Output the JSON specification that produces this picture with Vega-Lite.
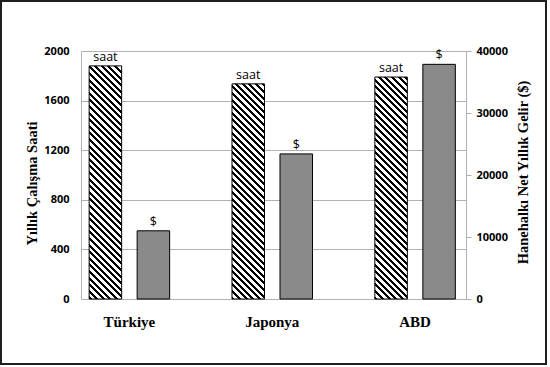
{
  "$schema": "https://vega.github.io/schema/vega-lite/v6.json",
  "width": 545,
  "height": 363,
  "autosize": "none",
  "padding": {"left": 1, "top": 1, "right": 4, "bottom": 3},
  "background": "white",
  "config": {"view": {"stroke": "#1e1e1e", "strokeWidth": 2}},
  "params": [
    {"name": "stp", "expr": "[{offset:0,color:'#000'},{offset:0.01,color:'#000'},{offset:0.01,color:'#fff'},{offset:0.022,color:'#fff'},{offset:0.022,color:'#000'},{offset:0.032,color:'#000'},{offset:0.032,color:'#fff'},{offset:0.044,color:'#fff'},{offset:0.044,color:'#000'},{offset:0.054,color:'#000'},{offset:0.054,color:'#fff'},{offset:0.066,color:'#fff'},{offset:0.066,color:'#000'},{offset:0.076,color:'#000'},{offset:0.076,color:'#fff'},{offset:0.088,color:'#fff'},{offset:0.088,color:'#000'},{offset:0.098,color:'#000'},{offset:0.098,color:'#fff'},{offset:0.11,color:'#fff'},{offset:0.11,color:'#000'},{offset:0.12,color:'#000'},{offset:0.12,color:'#fff'},{offset:0.132,color:'#fff'},{offset:0.132,color:'#000'},{offset:0.142,color:'#000'},{offset:0.142,color:'#fff'},{offset:0.154,color:'#fff'},{offset:0.154,color:'#000'},{offset:0.164,color:'#000'},{offset:0.164,color:'#fff'},{offset:0.176,color:'#fff'},{offset:0.176,color:'#000'},{offset:0.186,color:'#000'},{offset:0.186,color:'#fff'},{offset:0.198,color:'#fff'},{offset:0.198,color:'#000'},{offset:0.208,color:'#000'},{offset:0.208,color:'#fff'},{offset:0.22,color:'#fff'},{offset:0.22,color:'#000'},{offset:0.23,color:'#000'},{offset:0.23,color:'#fff'},{offset:0.242,color:'#fff'},{offset:0.242,color:'#000'},{offset:0.252,color:'#000'},{offset:0.252,color:'#fff'},{offset:0.264,color:'#fff'},{offset:0.264,color:'#000'},{offset:0.274,color:'#000'},{offset:0.274,color:'#fff'},{offset:0.286,color:'#fff'},{offset:0.286,color:'#000'},{offset:0.296,color:'#000'},{offset:0.296,color:'#fff'},{offset:0.308,color:'#fff'},{offset:0.308,color:'#000'},{offset:0.318,color:'#000'},{offset:0.318,color:'#fff'},{offset:0.33,color:'#fff'},{offset:0.33,color:'#000'},{offset:0.34,color:'#000'},{offset:0.34,color:'#fff'},{offset:0.352,color:'#fff'},{offset:0.352,color:'#000'},{offset:0.362,color:'#000'},{offset:0.362,color:'#fff'},{offset:0.374,color:'#fff'},{offset:0.374,color:'#000'},{offset:0.384,color:'#000'},{offset:0.384,color:'#fff'},{offset:0.396,color:'#fff'},{offset:0.396,color:'#000'},{offset:0.406,color:'#000'},{offset:0.406,color:'#fff'},{offset:0.418,color:'#fff'},{offset:0.418,color:'#000'},{offset:0.428,color:'#000'},{offset:0.428,color:'#fff'},{offset:0.44,color:'#fff'},{offset:0.44,color:'#000'},{offset:0.45,color:'#000'},{offset:0.45,color:'#fff'},{offset:0.462,color:'#fff'},{offset:0.462,color:'#000'},{offset:0.472,color:'#000'},{offset:0.472,color:'#fff'},{offset:0.484,color:'#fff'},{offset:0.484,color:'#000'},{offset:0.494,color:'#000'},{offset:0.494,color:'#fff'},{offset:0.506,color:'#fff'},{offset:0.506,color:'#000'},{offset:0.516,color:'#000'},{offset:0.516,color:'#fff'},{offset:0.528,color:'#fff'},{offset:0.528,color:'#000'},{offset:0.538,color:'#000'},{offset:0.538,color:'#fff'},{offset:0.55,color:'#fff'},{offset:0.55,color:'#000'},{offset:0.56,color:'#000'},{offset:0.56,color:'#fff'},{offset:0.572,color:'#fff'},{offset:0.572,color:'#000'},{offset:0.582,color:'#000'},{offset:0.582,color:'#fff'},{offset:0.594,color:'#fff'},{offset:0.594,color:'#000'},{offset:0.604,color:'#000'},{offset:0.604,color:'#fff'},{offset:0.616,color:'#fff'},{offset:0.616,color:'#000'},{offset:0.626,color:'#000'},{offset:0.626,color:'#fff'},{offset:0.638,color:'#fff'},{offset:0.638,color:'#000'},{offset:0.648,color:'#000'},{offset:0.648,color:'#fff'},{offset:0.66,color:'#fff'},{offset:0.66,color:'#000'},{offset:0.67,color:'#000'},{offset:0.67,color:'#fff'},{offset:0.682,color:'#fff'},{offset:0.682,color:'#000'},{offset:0.692,color:'#000'},{offset:0.692,color:'#fff'},{offset:0.704,color:'#fff'},{offset:0.704,color:'#000'},{offset:0.714,color:'#000'},{offset:0.714,color:'#fff'},{offset:0.726,color:'#fff'},{offset:0.726,color:'#000'},{offset:0.736,color:'#000'},{offset:0.736,color:'#fff'},{offset:0.748,color:'#fff'},{offset:0.748,color:'#000'},{offset:0.758,color:'#000'},{offset:0.758,color:'#fff'},{offset:0.77,color:'#fff'},{offset:0.77,color:'#000'},{offset:0.78,color:'#000'},{offset:0.78,color:'#fff'},{offset:0.792,color:'#fff'},{offset:0.792,color:'#000'},{offset:0.802,color:'#000'},{offset:0.802,color:'#fff'},{offset:0.814,color:'#fff'},{offset:0.814,color:'#000'},{offset:0.824,color:'#000'},{offset:0.824,color:'#fff'},{offset:0.836,color:'#fff'},{offset:0.836,color:'#000'},{offset:0.846,color:'#000'},{offset:0.846,color:'#fff'},{offset:0.858,color:'#fff'},{offset:0.858,color:'#000'},{offset:0.868,color:'#000'},{offset:0.868,color:'#fff'},{offset:0.88,color:'#fff'},{offset:0.88,color:'#000'},{offset:0.89,color:'#000'},{offset:0.89,color:'#fff'},{offset:0.902,color:'#fff'}]"}
  ],
  "data": {
    "values": [
      {"ulke": "Türkiye", "tur": "saat", "deger": 1880},
      {"ulke": "Türkiye", "tur": "$", "deger": 11000},
      {"ulke": "Japonya", "tur": "saat", "deger": 1735},
      {"ulke": "Japonya", "tur": "$", "deger": 23400},
      {"ulke": "ABD", "tur": "saat", "deger": 1790},
      {"ulke": "ABD", "tur": "$", "deger": 37850}
    ]
  },
  "encoding": {
    "x": {
      "field": "ulke",
      "type": "nominal",
      "sort": ["Türkiye", "Japonya", "ABD"],
      "scale": {"domain": ["Türkiye", "Japonya", "ABD"], "range": [56.97, 485.52], "paddingInner": 0, "paddingOuter": 0},
      "axis": {
        "title": null,
        "orient": "bottom",
        "offset": -65,
        "domain": false,
        "ticks": false,
        "grid": false,
        "labelAngle": 0,
        "labelFont": "Liberation Serif",
        "labelFontWeight": "bold",
        "labelFontSize": 15,
        "labelColor": "#000",
        "labelPadding": 15
      }
    },
    "xOffset": {
      "field": "tur",
      "type": "nominal",
      "scale": {"domain": ["saat", "$"], "paddingInner": 0.323, "paddingOuter": 0.6495}
    }
  },
  "layer": [
    {
      "transform": [{"filter": "datum.tur === 'saat'"}],
      "encoding": {
        "y": {
          "field": "deger",
          "type": "quantitative",
          "scale": {"domain": [0, 2000], "range": [298, 50], "nice": false, "zero": true},
          "axis": {
            "orient": "left",
            "offset": -80,
            "values": [0, 400, 800, 1200, 1600, 2000],
            "format": "d",
            "grid": false,
            "domain": true,
            "domainColor": "#b0b0b0",
            "ticks": true,
            "tickSize": -385,
            "tickColor": "#b0b0b0",
            "labelPadding": 397,
            "labelFont": "Open Sans",
            "labelFontWeight": "bold",
            "labelFontSize": 11,
            "labelColor": "#000",
            "title": "Yıllık Çalışma Saati",
            "titleFont": "Liberation Serif",
            "titleFontSize": 14.5,
            "titleFontWeight": "bold",
            "titleColor": "#000",
            "titlePadding": 4,
            "titleY": 182
          }
        }
      },
      "layer": [
        {
          "mark": {
            "type": "bar",
            "stroke": "#000",
            "strokeWidth": 1,
            "fill": {"expr": "{gradient:'linear',x1:0,y1:1,x2:9750/(1056.25+pow(datum.deger*0.124,2)),y2:1-37.2*datum.deger/(1056.25+pow(datum.deger*0.124,2)),stops:stp}"}
          }
        },
        {
          "mark": {"type": "text", "baseline": "alphabetic", "align": "center", "dy": -5, "font": "Open Sans", "fontSize": 12.5, "color": "#000"},
          "encoding": {"text": {"field": "tur", "type": "nominal"}}
        }
      ]
    },
    {
      "transform": [{"filter": "datum.tur === '$'"}],
      "encoding": {
        "y": {
          "field": "deger",
          "type": "quantitative",
          "scale": {"domain": [0, 40000], "range": [298, 50], "nice": false, "zero": true},
          "axis": {
            "orient": "right",
            "offset": -80,
            "values": [0, 10000, 20000, 30000, 40000],
            "format": "d",
            "grid": false,
            "domain": true,
            "domainColor": "#b0b0b0",
            "ticks": true,
            "tickSize": 5,
            "tickColor": "#b0b0b0",
            "labelPadding": 5,
            "labelFont": "Open Sans",
            "labelFontWeight": "bold",
            "labelFontSize": 11,
            "labelColor": "#000",
            "title": "Hanehalkı Net Yıllık Gelir ($)",
            "titleFont": "Liberation Serif",
            "titleFontSize": 14.5,
            "titleFontWeight": "bold",
            "titleColor": "#000",
            "titleAngle": -90,
            "titleBaseline": "top",
            "titlePadding": 9,
            "titleY": 171
          }
        }
      },
      "layer": [
        {
          "mark": {"type": "bar", "stroke": "#000", "strokeWidth": 1, "fill": "#8a8a8a"}
        },
        {
          "mark": {"type": "text", "baseline": "alphabetic", "align": "center", "dy": -5, "font": "Open Sans", "fontSize": 12.5, "color": "#000"},
          "encoding": {"text": {"field": "tur", "type": "nominal"}}
        }
      ]
    }
  ],
  "resolve": {"scale": {"y": "independent"}}
}
